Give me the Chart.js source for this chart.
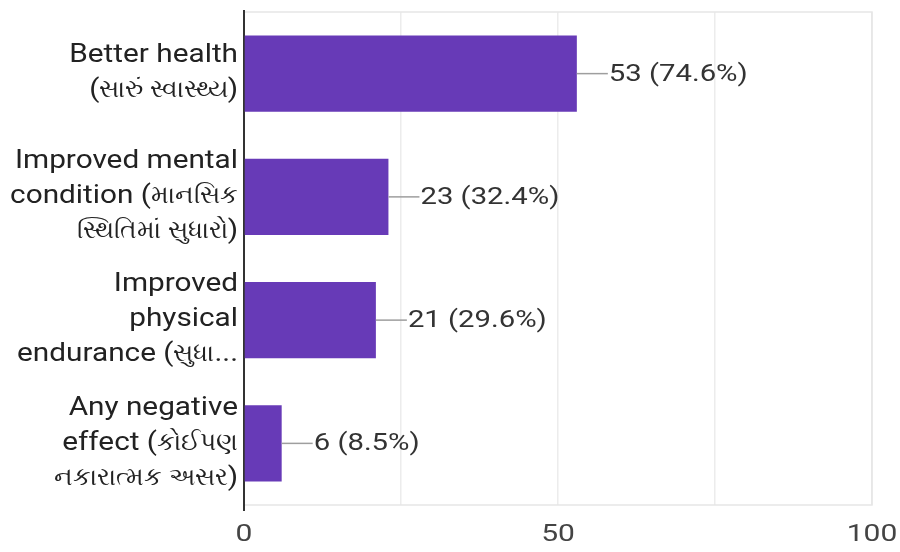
<!DOCTYPE html>
<html>
<head>
<meta charset="utf-8">
<script src="https://cdn.jsdelivr.net/npm/chart.js@4"></script>
<style>
  body { margin: 0; background: #fff; }
  #wrap { width: 900px; height: 552px; }
</style>
</head>
<body>
<div id="wrap"><canvas id="grafico"></canvas></div>
<script>
const categorias = [
  ['Better health', '(સારું સ્વાસ્થ્ય)'],
  ['Improved mental', 'condition (માનસિક', 'સ્થિતિમાં સુધારો)'],
  ['Improved', 'physical', 'endurance (સુધા...'],
  ['Any negative', 'effect (કોઈપણ', 'નકારાત્મક અસર)']
]
const respuestas = [53, 23, 21, 6]
const porcentajes = ['74.6%', '32.4%', '29.6%', '8.5%']
const ticksX = [0, 50, 100]

const fuente = "Roboto, 'Noto Sans', sans-serif"

// texto estirado en horizontal, como en la imagen original
function texto(ctx, str, x, y, align, estirar) {
  ctx.save()
  ctx.translate(x, y)
  ctx.scale(estirar, 1)
  ctx.textAlign = align
  ctx.fillText(str, 0, 0)
  ctx.restore()
}

// linea mixta latin / gujarati alineada a la derecha
function lineaMixta(ctx, str, xDer, y) {
  const trozos = str.split(/([\u0A80-\u0AFF]+(?:\s+[\u0A80-\u0AFF]+)*)/).filter(s => s)
  const partes = trozos.map(s => {
    const guj = /[\u0A80-\u0AFF]/.test(s)
    const f = guj ? 1.0 : 1.19
    return { s, f, w: ctx.measureText(s).width * f }
  })
  let x = xDer - partes.reduce((t, p) => t + p.w, 0)
  partes.forEach(p => {
    texto(ctx, p.s, x, y, 'left', p.f)
    x += p.w
  })
}

const marco = {
  id: 'marco',
  beforeDatasetsDraw(chart) {
    const { ctx, chartArea: a } = chart
    ctx.save()
    ctx.strokeStyle = '#e6e6e6'
    ctx.lineWidth = 1.5
    ctx.strokeRect(a.left, a.top, a.right - a.left, a.bottom - a.top)
    ctx.strokeStyle = '#333'
    ctx.lineWidth = 2
    ctx.beginPath()
    ctx.moveTo(a.left, a.top - 2)
    ctx.lineTo(a.left, a.bottom + 6)
    ctx.stroke()
    ctx.restore()
  }
}

const textos = {
  id: 'textos',
  afterDraw(chart) {
    const { ctx, chartArea: a } = chart
    const xs = chart.scales.x
    const ys = chart.scales.y
    const meta = chart.getDatasetMeta(0)
    ctx.save()
    ctx.textBaseline = 'middle'

    // etiquetas de categorias
    ctx.font = '25px ' + fuente
    ctx.fillStyle = '#222'
    categorias.forEach((lineas, i) => {
      const yc = ys.getPixelForTick(i)
      const alto = 35
      const y0 = yc - (lineas.length - 1) * alto / 2
      lineas.forEach((l, j) => lineaMixta(ctx, l, a.left - 6, y0 + j * alto))
    })

    // ticks del eje x
    ctx.font = '24px ' + fuente
    ctx.fillStyle = '#444'
    ticksX.forEach(v => texto(ctx, String(v), xs.getPixelForValue(v), a.bottom + 30, 'center', 1.25))

    // valores
    meta.data.forEach((bar, i) => {
      ctx.strokeStyle = '#9e9e9e'
      ctx.lineWidth = 1.5
      ctx.beginPath()
      ctx.moveTo(bar.x, bar.y)
      ctx.lineTo(bar.x + 31, bar.y)
      ctx.stroke()
      ctx.fillStyle = '#333'
      texto(ctx, respuestas[i] + ' (' + porcentajes[i] + ')', bar.x + 32, bar.y + 1, 'left', 1.22)
    })
    ctx.restore()
  }
}

new Chart(document.getElementById('grafico'), {
  type: 'bar',
  data: {
    labels: categorias,
    datasets: [{
      data: respuestas,
      backgroundColor: '#673ab7',
      categoryPercentage: 0.62,
      barPercentage: 1
    }]
  },
  options: {
    indexAxis: 'y',
    responsive: true,
    maintainAspectRatio: false,
    animation: false,
    layout: { padding: { top: 12, right: 28, left: 0, bottom: 47 } },
    plugins: { legend: { display: false }, tooltip: { enabled: false } },
    scales: {
      x: {
        min: 0,
        max: 100,
        afterBuildTicks(scale) {
          scale.ticks = [0, 25, 50, 75, 100].map(v => ({ value: v }))
        },
        afterFit(scale) { scale.height = 0 },
        ticks: { display: false },
        grid: { color: '#ececec', lineWidth: 1.5, drawTicks: false },
        border: { display: false }
      },
      y: {
        afterFit(scale) { scale.width = 244 },
        ticks: { display: false },
        grid: { display: false },
        border: { display: false }
      }
    }
  },
  plugins: [marco, textos]
})
</script>
</body>
</html>
